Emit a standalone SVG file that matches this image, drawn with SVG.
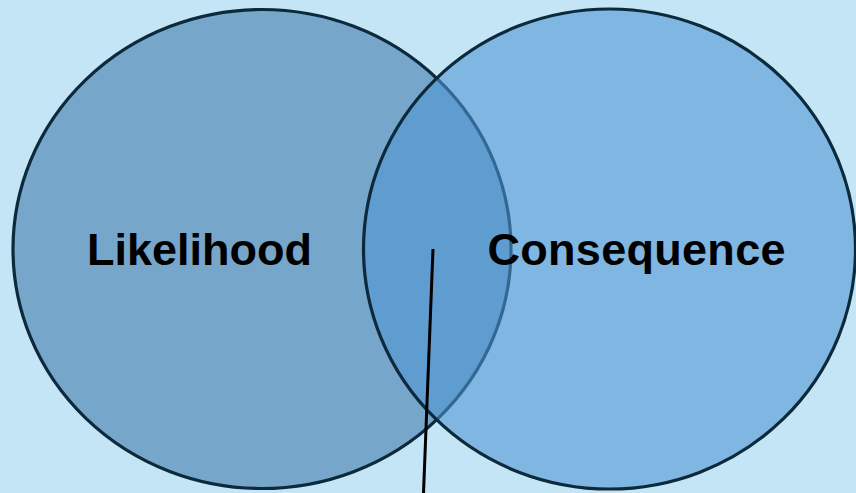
<svg xmlns="http://www.w3.org/2000/svg" width="856" height="493" viewBox="0 0 856 493">
<style>
.circ{stroke:#0c2a3c;stroke-width:3.2}
.lbl{font-family:"Liberation Sans",Arial,sans-serif;font-weight:bold;font-size:45px;fill:#000;text-anchor:middle}
</style>
<rect width="856" height="493" fill="#c3e5f5"/>
<g id="likelihood">
<ellipse class="circ" cx="262" cy="249" rx="249" ry="239.5" fill="#76a6c9"/>
</g>
<g id="consequence">
<ellipse cx="609.5" cy="249" rx="246" ry="240" fill="#5094d4" fill-opacity="0.58"/>
<ellipse class="circ" cx="609.5" cy="249" rx="246" ry="240" fill="none"/>
</g>
<g id="labels">
<text class="lbl" x="199.5" y="265">Likelihood</text>
<text class="lbl" x="636.5" y="265" textLength="298" lengthAdjust="spacing">Consequence</text>
</g>
<g id="connectors">
<line x1="433" y1="249" x2="423.5" y2="493" stroke="#000" stroke-width="3"/>
</g>
</svg>
